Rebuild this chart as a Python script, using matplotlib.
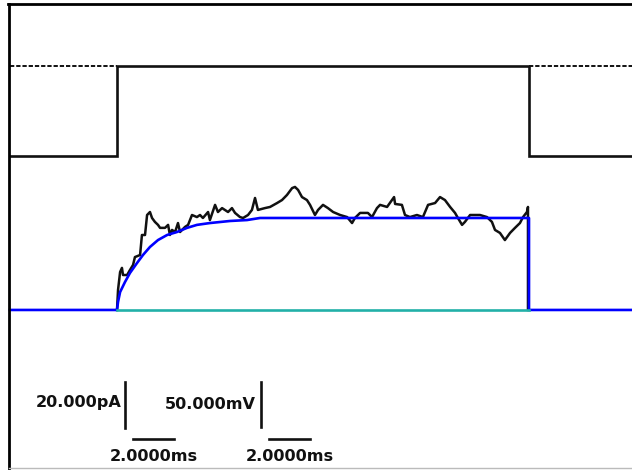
import matplotlib
matplotlib.use("Agg")
import matplotlib.pyplot as plt
from matplotlib.lines import Line2D

# ---- sweep timing (ms) ----
sweep_start = -5.2
sweep_end = 25.0
pulse_on = 0.0
pulse_off = 20.0

# ---- command voltage (mV) ----
holding_mv = -80.0
step_mv = 20.0

# ---- recorded current during the pulse (ms, pA) ----
trace_t = [0.00, 0.05, 0.15, 0.24, 0.29, 0.49, 0.63, 0.78, 0.87, 1.12,
           1.21, 1.36, 1.46, 1.60, 1.70, 1.84, 1.99, 2.09, 2.33, 2.48,
           2.57, 2.67, 2.82, 2.96, 3.06, 3.30, 3.45, 3.64, 3.88, 4.03,
           4.17, 4.42, 4.51, 4.76, 4.90, 5.10, 5.39, 5.58, 5.73, 5.97,
           6.12, 6.36, 6.55, 6.70, 6.84, 7.18, 7.43, 7.77, 8.01, 8.25,
           8.50, 8.64, 8.79, 8.98, 9.22, 9.37, 9.61, 9.76, 10.00, 10.24,
           10.49, 10.83, 11.17, 11.41, 11.55, 11.80, 12.18, 12.38, 12.62, 12.77,
           13.11, 13.45, 13.50, 13.83, 13.98, 14.22, 14.56, 14.85, 15.10, 15.44,
           15.68, 15.92, 16.17, 16.41, 16.55, 16.75, 16.89, 17.14, 17.62, 17.96,
           18.20, 18.35, 18.59, 18.83, 19.08, 19.32, 19.56, 19.71, 19.90, 19.95,
           19.95]
trace_pa = [0.0, 8.7, 16.5, 18.3, 15.2, 15.2, 17.4, 19.6, 23.0, 23.9,
            32.6, 32.6, 41.3, 42.6, 40.0, 38.3, 37.0, 35.7, 35.7, 37.0,
            32.6, 34.8, 33.9, 37.8, 33.9, 36.1, 37.0, 41.3, 40.4, 41.3,
            40.0, 42.6, 39.1, 45.7, 42.6, 44.3, 42.6, 44.3, 42.2, 40.4,
            40.0, 41.3, 43.5, 48.7, 43.5, 44.3, 44.8, 46.5, 47.8, 50.0,
            53.0, 53.5, 52.2, 49.1, 47.8, 45.7, 41.3, 43.5, 45.7, 44.3,
            42.6, 41.3, 40.4, 37.8, 40.0, 42.2, 42.2, 40.4, 44.3, 45.7,
            44.8, 49.1, 46.1, 45.7, 41.3, 40.4, 41.3, 40.4, 45.7, 46.5,
            49.1, 47.8, 44.8, 42.2, 40.0, 37.0, 38.3, 41.3, 41.3, 40.4,
            38.3, 34.8, 33.5, 30.4, 33.5, 35.7, 37.8, 40.4, 42.6, 44.8,
            0.0]

# ---- fitted activation curve (ms, pA) ----
fit_t = [sweep_start, 0.00, 0.05, 0.15, 0.39, 0.63, 0.97, 1.26, 1.60, 1.99, 2.43,
         2.91, 3.40, 3.88, 4.51, 5.49, 6.31, 6.94, 20.0, 20.0, sweep_end]
fit_pa = [0.0, 0.0, 3.5, 7.8, 12.2, 16.1, 20.4, 23.9, 27.4, 30.4, 32.6,
          33.9, 35.7, 37.0, 37.8, 38.7, 39.1, 40.0, 40.0, 0.0, 0.0]

# ---- scale bars ----
bar_ms = 2.0
bar_pa = 20.0
bar_mv = 50.0
label_pa = "20.000pA"
label_mv = "50.000mV"
label_ms = "2.0000ms"

W, H = 632, 470
fig = plt.figure(figsize=(W / 100, H / 100), dpi=100)
fig.patch.set_facecolor("white")

xlim = (-5.68, 25.0)

# current axes (pA)
ax_i = fig.add_axes([0, 0, 1, 1])
ax_i.set_xlim(*xlim)
ax_i.set_ylim(-69.6, 134.8)
ax_i.axis("off")

# voltage axes (mV), drawn on the same canvas
ax_v = fig.add_axes([0, 0, 1, 1], sharex=ax_i)
ax_v.set_ylim(-428.9, 93.3)
ax_v.patch.set_alpha(0)
ax_v.axis("off")

lw = 1.9
black = "#111111"

# command voltage
ax_v.plot([sweep_start, pulse_on, pulse_on, pulse_off, pulse_off, sweep_end],
          [holding_mv, holding_mv, step_mv, step_mv, holding_mv, holding_mv],
          color=black, lw=lw, solid_joinstyle="miter")
ax_v.plot([sweep_start, pulse_on], [step_mv, step_mv], color=black, lw=1.4,
          linestyle=(0, (2.2, 1.0)))
ax_v.plot([pulse_off, sweep_end], [step_mv, step_mv], color=black, lw=1.4,
          linestyle=(0, (2.2, 1.0)))

# current record, fit and zero line
ax_i.plot(trace_t, trace_pa, color=black, lw=1.8, zorder=3)
ax_i.plot(fit_t, fit_pa, color="#0000ff", lw=lw, zorder=4)
ax_i.plot([pulse_on, pulse_off], [0, 0], color="#22b0a8", lw=lw, zorder=5)

# scale bars
ax_i.plot([0.39, 0.39], [-31.3, -31.3 - bar_pa], color=black, lw=lw)
ax_i.plot([0.78, 0.78 + bar_ms], [-56.1, -56.1], color=black, lw=lw)
ax_v.plot([6.99, 6.99], [-331.1, -331.1 - bar_mv], color=black, lw=lw)
ax_i.plot([7.38, 7.38 + bar_ms], [-56.1, -56.1], color=black, lw=lw)

font = dict(family="DejaVu Sans", weight="bold", size=11.6, color=black)
ax_i.text(0.24, -40.4, label_pa, ha="right", va="center", **font)
ax_v.text(6.75, -356.1, label_mv, ha="right", va="center", **font)
ax_i.text(0.78 + bar_ms / 2, -63.8, label_ms, ha="center", va="center", **font)
ax_i.text(7.38 + bar_ms / 2, -63.8, label_ms, ha="center", va="center", **font)

# frame
fig.add_artist(Line2D([9 / W, 9 / W], [0, 1 - 4 / H], color="black", lw=2.0,
                      transform=fig.transFigure))
fig.add_artist(Line2D([8 / W, 1], [1 - 4 / H, 1 - 4 / H], color="black", lw=2.0,
                      transform=fig.transFigure))
fig.add_artist(Line2D([9 / W, 1], [1 - 468 / H, 1 - 468 / H], color="#bbbbbb",
                      lw=1.0, transform=fig.transFigure))

fig.savefig("out.png", dpi=100, facecolor="white")
